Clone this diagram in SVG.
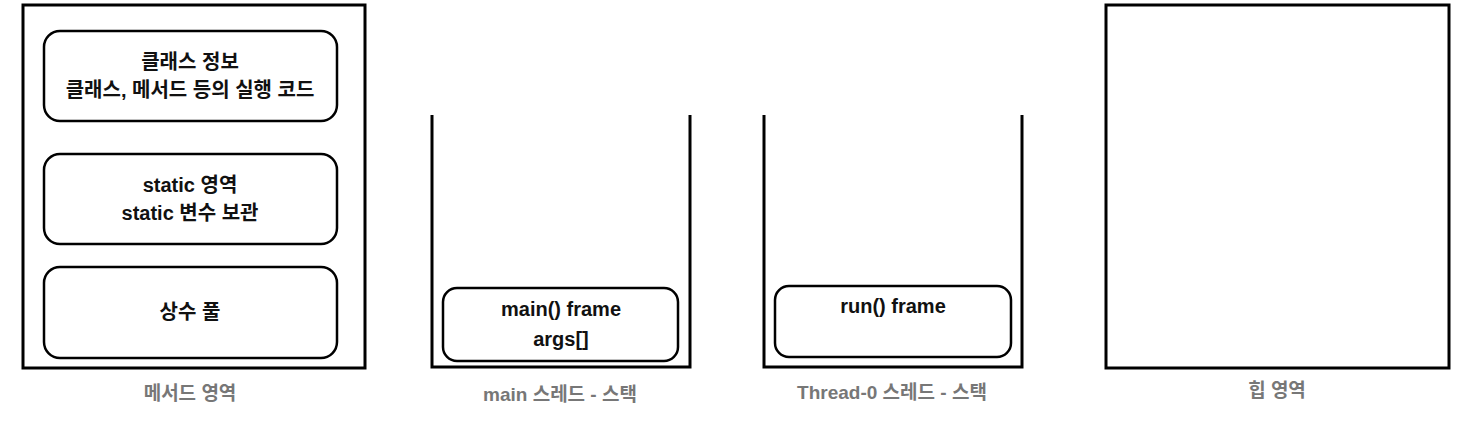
<svg xmlns="http://www.w3.org/2000/svg" width="1477" height="421" viewBox="0 0 1477 421">
<style>
.area{fill:#fff;stroke:#000;stroke-width:3}
.box{fill:#fff;stroke:#000;stroke-width:2.5}
.stack{fill:none;stroke:#000;stroke-width:3}
.t{font-family:"Liberation Sans","Noto Sans CJK KR",sans-serif;font-size:20px;font-weight:600;fill:#111;text-anchor:middle;dominant-baseline:central}
.lbl{font-family:"Liberation Sans","Noto Sans CJK KR",sans-serif;font-size:19px;font-weight:bold;fill:#777;text-anchor:middle;dominant-baseline:central}
</style>
<rect width="1477" height="421" fill="#fff"/>
<g id="method-area">
<rect class="area" x="23" y="5" width="342" height="363"/>
<text class="lbl" x="190" y="393">메서드 영역</text>
</g>
<g id="class-info">
<rect class="box" x="44" y="31" width="293" height="90" rx="16"/>
<text class="t" x="190" y="62">클래스 정보</text>
<text class="t" x="190" y="90">클래스, 메서드 등의 실행 코드</text>
</g>
<g id="static-area">
<rect class="box" x="44" y="154" width="293" height="90" rx="16"/>
<text class="t" x="190" y="185">static 영역</text>
<text class="t" x="190" y="213">static 변수 보관</text>
</g>
<g id="constant-pool">
<rect class="box" x="44" y="267" width="293" height="91" rx="16"/>
<text class="t" x="190" y="312">상수 풀</text>
</g>
<g id="main-stack">
<path class="stack" d="M432,115 V367 H690 V115"/>
<text class="lbl" x="560" y="394">main 스레드 - 스택</text>
</g>
<g id="main-frame">
<rect class="box" x="443" y="288" width="235" height="73" rx="14"/>
<text class="t" x="561" y="309">main() frame</text>
<text class="t" x="561" y="339">args[]</text>
</g>
<g id="thread0-stack">
<path class="stack" d="M764,115 V367 H1022 V115"/>
<text class="lbl" x="892" y="392">Thread-0 스레드 - 스택</text>
</g>
<g id="run-frame">
<rect class="box" x="775" y="286" width="236" height="71" rx="14"/>
<text class="t" x="893" y="306">run() frame</text>
</g>
<g id="heap">
<rect class="area" x="1106" y="5" width="343" height="363"/>
<text class="lbl" x="1277" y="390">힙 영역</text>
</g>
<g id="connectors"/>
</svg>
